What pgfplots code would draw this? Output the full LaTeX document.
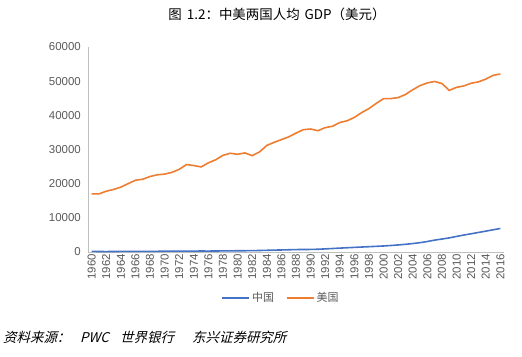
\documentclass[border=0pt]{standalone}
\usepackage{pgfplots}
\usepackage{pgfplotstable}
\pgfplotsset{compat=1.18}
\usepackage{fontspec}
\setmainfont{Liberation Sans}
\newfontfamily\cjk{Noto Sans CJK SC}
\newfontfamily\cjkit[FakeSlant=0.25]{Noto Sans CJK SC}
\definecolor{cnblue}{HTML}{4472C4}
\definecolor{usorange}{HTML}{ED7D31}
\definecolor{axgray}{HTML}{BFBFBF}
\definecolor{txtgray}{HTML}{595959}

\pgfplotstableread{
year cn us
1960 192 17000
1961 140 17000
1962 130 17800
1963 143 18300
1964 166 19000
1965 190 20000
1966 205 21000
1967 189 21300
1968 177 22100
1969 203 22600
1970 236 22800
1971 247 23300
1972 250 24200
1973 266 25600
1974 268 25300
1975 286 24900
1976 275 26100
1977 293 27000
1978 322 28300
1979 341 28900
1980 361 28600
1981 375 29000
1982 402 28200
1983 438 29300
1984 497 31200
1985 556 32100
1986 596 32900
1987 654 33700
1988 715 34800
1989 732 35800
1990 750 36000
1991 808 35500
1992 910 36400
1993 1022 36800
1994 1139 37900
1995 1244 38400
1996 1349 39400
1997 1457 40800
1998 1555 42000
1999 1660 43500
2000 1768 44900
2001 1903 44900
2002 2063 45200
2003 2258 46100
2004 2473 47500
2005 2740 48700
2006 3069 49500
2007 3482 49900
2008 3796 49300
2009 4132 47300
2010 4561 48200
2011 4972 48600
2012 5336 49400
2013 5722 49800
2014 6108 50600
2015 6497 51700
2016 6894 52100
}\gdpdata

\begin{document}
\begin{tikzpicture}[x=1bp,y=1bp]
\path (0,0) rectangle (522,356);
\node[font=\cjk\fontsize{13.5}{15}\selectfont, anchor=center] at (277,342) {图\hspace{5bp}1.2：中美两国人均\hspace{5bp}GDP（美元）};
\begin{axis}[
  at={(88bp,104bp)}, anchor=south west,
  scale only axis, width=416bp, height=205bp,
  xmin=1959.5, xmax=2016.5, ymin=0, ymax=60000,
  axis x line*=bottom, axis y line*=left,
  axis line style={-, axgray, line width=0.8bp},
  major tick length=0pt,
  xtick={1960,1962,...,2016},
  ytick={0,10000,...,60000},
  scaled y ticks=false,
  /pgf/number format/assume math mode=true,
  /pgf/number format/1000 sep={},
  tick label style={font=\fontsize{11.5}{13}\selectfont, text=txtgray},
  xticklabel style={rotate=90, anchor=east, inner sep=2bp},
  yticklabel style={inner sep=2bp, xshift=-5bp},
  legend style={at={(0.464,-0.224)}, anchor=center, draw=none, fill=none,
    legend columns=2, font=\cjk\fontsize{11}{13}\selectfont, text=txtgray,
    /tikz/every even column/.append style={column sep=10bp}},
  legend image code/.code={\draw[#1] (0bp,0bp) -- (27bp,0bp);},
]
\addplot[cnblue, line width=1.6pt] table[x=year, y=cn] {\gdpdata};
\addlegendentry{中国}
\addplot[usorange, line width=1.6pt] table[x=year, y=us] {\gdpdata};
\addlegendentry{美国}
\end{axis}
\begin{scope}[every node/.style={font=\cjkit\fontsize{13.5}{15}\selectfont, anchor=base west, inner sep=0pt}]
\node at (3,14) {资料来源：};
\node at (80,14) {PWC};
\node at (120,14) {世界银行};
\node at (192,14) {东兴证券研究所};
\end{scope}
\end{tikzpicture}
\end{document}
